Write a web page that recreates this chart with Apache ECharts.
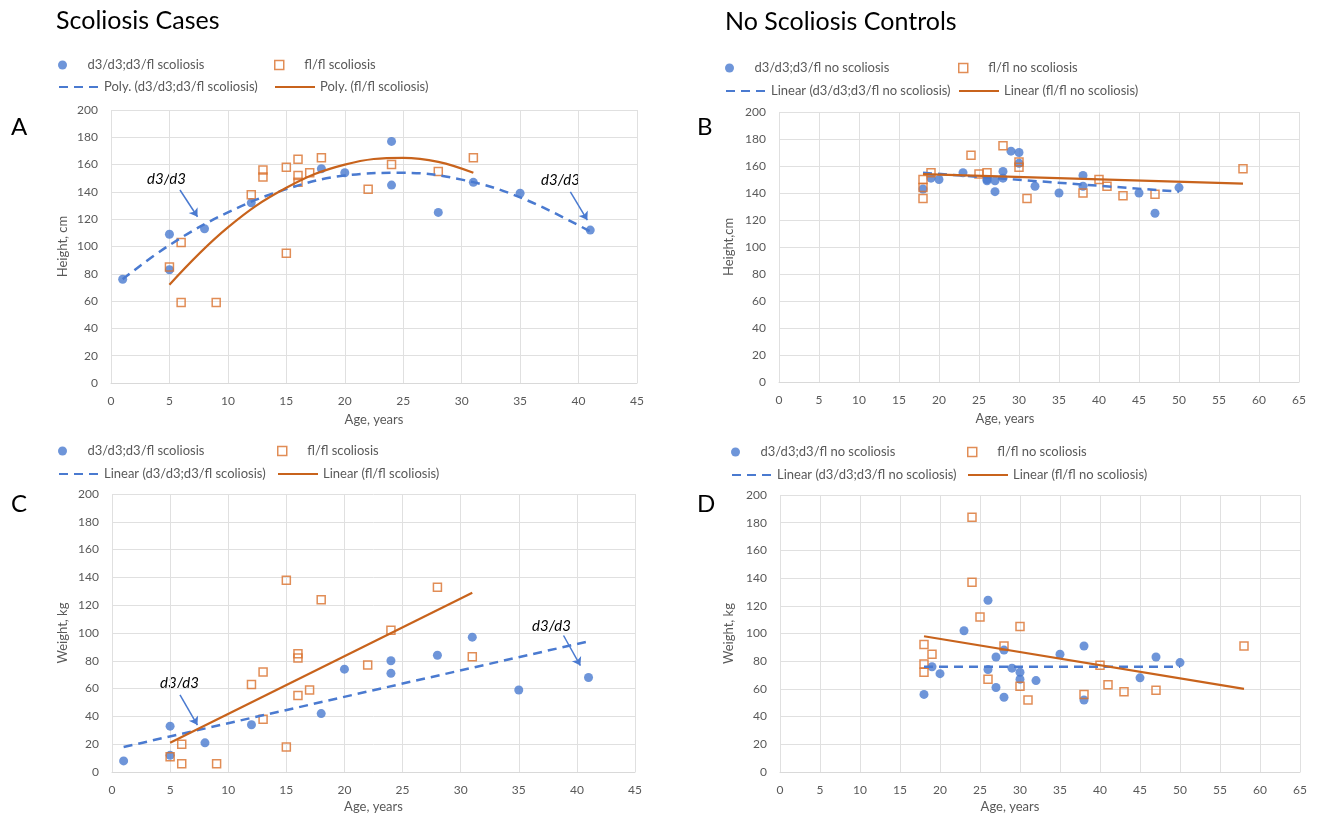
<!DOCTYPE html>
<html>
<head>
<meta charset="utf-8">
<title>Scoliosis cases and controls</title>
<script src="https://cdn.jsdelivr.net/npm/echarts@6/dist/echarts.min.js"></script>
<style>
  html, body { margin: 0; padding: 0; background: #fff; }
  #chart { width: 1324px; height: 819px; }
</style>
</head>
<body>
<div id="chart"></div>
<script>
// A - height, scoliosis cases  [age, cm]
var heightCasesD3 = [[1,76],[5,109],[5,83],[8,113],[12,132],[18,157],[20,154],[24,177],[24,145],[28,125],[31,147],[35,139],[41,112]];
var heightCasesFl = [[5,85],[6,103],[6,59],[9,59],[12,138],[13,156],[13,151],[15,158],[15,95],[16,164],[16,152],[16,147],[17,154],[18,165],[22,142],[24,160],[28,155],[31,165]];
// trend curves
var heightCasesD3Trend = [[1,76],[5,101],[10,125],[15,142],[20,152],[25,154],[30,149],[35,136],[41,111]];
var heightCasesFlTrend = [[5,72],[10,114],[15,143],[20,160],[25,165],[28,162],[31,154]];

// B - height, no scoliosis controls
var heightCtrlD3 = [[18,143],[19,151],[20,150],[23,155],[26,150],[26,149],[27,149],[27,141],[28,156],[28,151],[29,171],[30,170],[30,162],[32,145],[35,140],[38,153],[38,145],[45,140],[47,125],[50,144]];
var heightCtrlFl = [[18,150],[18,144],[18,136],[19,155],[24,168],[25,154],[26,155],[28,175],[30,163],[30,159],[31,136],[38,140],[40,150],[41,145],[43,138],[47,139],[58,158]];
var heightCtrlD3Trend = [[18,155],[50,141]];
var heightCtrlFlTrend = [[18,154],[58,147]];

// C - weight, scoliosis cases  [age, kg]
var weightCasesD3 = [[1,8],[5,33],[5,12],[8,21],[12,34],[18,42],[20,74],[24,80],[24,71],[28,84],[31,97],[35,59],[41,68]];
var weightCasesFl = [[5,11],[6,20],[6,6],[9,6],[12,63],[13,72],[13,38],[15,138],[15,18],[16,85],[16,82],[16,55],[17,59],[18,124],[22,77],[24,102],[28,133],[31,83]];
var weightCasesD3Trend = [[1,18],[41,94]];
var weightCasesFlTrend = [[5,21],[31,129]];

// D - weight, no scoliosis controls
var weightCtrlD3 = [[18,56],[19,76],[20,71],[23,102],[26,124],[26,74],[27,83],[27,61],[28,88],[28,54],[29,75],[30,72],[30,67],[32,66],[35,85],[38,91],[38,52],[45,68],[47,83],[50,79]];
var weightCtrlFl = [[18,92],[18,78],[18,72],[19,85],[24,184],[24,137],[25,112],[26,67],[28,91],[30,105],[30,62],[31,52],[38,56],[40,77],[41,63],[43,58],[47,59],[58,91]];
var weightCtrlD3Trend = [[18,76],[50,76]];
var weightCtrlFlTrend = [[18,98],[58,60]];

// d3/d3 arrows, [from, to] in data units
var arrowsHeight = [[[5.9,141.4],[7.4,121.8]], [[39.3,140.1],[40.75,119.4]]];
var arrowsWeight = [[[5.85,55.5],[7.35,33.8]], [[38.85,98.2],[40.3,76.6]]];

var FONT = 'Lato';
var GREY = '#595959';
var BLUE = '#4A7AD0';
var ORANGE = '#D9712C';
var ORANGE_LINE = '#C8631C';
var GRIDLINE = '#E0E0E0';

var chart = echarts.init(document.getElementById('chart'));

function xAxis(idx, max, gap, shift) {
  return {
    gridIndex: idx, type: 'value', min: 0, max: max, interval: 5,
    name: 'Age, years', nameLocation: 'middle', nameGap: gap,
    nameTextStyle: { color: GREY, fontSize: 13, fontFamily: FONT, padding: [0, shift, 0, 0] },
    axisLine: { lineStyle: { color: '#D9D9D9' } },
    axisTick: { show: false },
    axisLabel: { color: GREY, fontSize: 12, fontFamily: FONT, margin: 12 },
    splitLine: { show: true, lineStyle: { color: GRIDLINE } }
  };
}

function yAxis(idx, name, gap) {
  return {
    gridIndex: idx, type: 'value', min: 0, max: 200, interval: 20,
    name: name, nameLocation: 'middle', nameGap: gap,
    nameTextStyle: { color: GREY, fontSize: 13, fontFamily: FONT },
    axisLine: { show: false },
    axisTick: { show: false },
    axisLabel: { color: GREY, fontSize: 12, fontFamily: FONT, margin: 13 },
    splitLine: { show: true, lineStyle: { color: GRIDLINE } }
  };
}

function dots(name, data, idx, arrows) {
  var s = {
    name: name, type: 'scatter', xAxisIndex: idx, yAxisIndex: idx, data: data,
    symbol: 'circle', symbolSize: 9, itemStyle: { color: BLUE }, z: 3
  };
  if (arrows) {
    s.markLine = {
      silent: true, symbol: ['none', 'arrow'], symbolSize: 8,
      label: { show: false },
      lineStyle: { color: BLUE, width: 1.5, type: 'solid' },
      data: arrows.map(function (a) { return [{ coord: a[0] }, { coord: a[1] }]; })
    };
  }
  return s;
}

function squares(name, data, idx) {
  return {
    name: name, type: 'scatter', xAxisIndex: idx, yAxisIndex: idx, data: data,
    symbol: 'rect', symbolSize: 8,
    itemStyle: { color: 'rgba(255,255,255,0)', borderColor: ORANGE, borderWidth: 1.5 }, z: 3
  };
}

function trend(name, data, idx, dashed, smooth) {
  return {
    name: name, type: 'line', xAxisIndex: idx, yAxisIndex: idx, data: data,
    symbol: 'none', showSymbol: false, smooth: smooth ? 0.4 : false, z: 4,
    itemStyle: { color: dashed ? BLUE : ORANGE_LINE },
    lineStyle: dashed ? { color: BLUE, width: 2.5, type: [9, 6] } : { color: ORANGE_LINE, width: 2.2 }
  };
}

// kind: 'dot', 'square' or 'line'
function legendItem(name, left, y, kind) {
  var item = { name: name };
  if (kind === 'square') {
    item.icon = 'path://M0 0H10V10H0Z';
    item.itemStyle = { color: 'rgba(255,255,255,0)', borderColor: ORANGE, borderWidth: 1.5 };
  } else if (kind === 'line') {
    // keep only the stroke in the legend, no marker
    item.itemStyle = { color: 'rgba(0,0,0,0)', borderWidth: 0, opacity: 0 };
  }
  return {
    data: [item], left: left, top: y - 4.5, itemWidth: 40, itemHeight: 9, padding: 0,
    selectedMode: false, symbolKeepAspect: true,
    textStyle: { color: GREY, fontSize: 13, fontFamily: FONT }
  };
}

function heading(text, left, top, size) {
  return { text: text, left: left, top: top, padding: 0,
    textStyle: { color: '#000', fontSize: size, fontWeight: 'normal', fontFamily: FONT } };
}

var option = {
  backgroundColor: '#fff',
  animation: false,
  title: [
    heading('Scoliosis Cases', 56, 8, 25),
    heading('No Scoliosis Controls', 725, 9, 25),
    heading('A', 11, 115, 24),
    heading('B', 697, 115, 24),
    heading('C', 11, 492, 24),
    heading('D', 697, 492, 24)
  ],
  legend: [
    legendItem('d3/d3;d3/fl scoliosis', 58, 63, 'dot'),
    legendItem('fl/fl scoliosis', 274, 63, 'square'),
    legendItem('Poly. (d3/d3;d3/fl scoliosis)', 58, 85, 'line'),
    legendItem('Poly. (fl/fl scoliosis)', 274, 85, 'line'),

    legendItem('d3/d3;d3/fl no scoliosis', 725, 66, 'dot'),
    legendItem('fl/fl no scoliosis', 958, 66, 'square'),
    legendItem('Linear (d3/d3;d3/fl no scoliosis)', 725, 89, 'line'),
    legendItem('Linear (fl/fl no scoliosis)', 958, 89, 'line'),

    legendItem('d3/d3;d3/fl scoliosis', 58, 449, 'dot'),
    legendItem('fl/fl scoliosis', 277, 449, 'square'),
    legendItem('Linear (d3/d3;d3/fl scoliosis)', 58, 472, 'line'),
    legendItem('Linear (fl/fl scoliosis)', 277, 472, 'line'),

    legendItem('d3/d3;d3/fl no scoliosis', 731, 450, 'dot'),
    legendItem('fl/fl no scoliosis', 967, 450, 'square'),
    legendItem('Linear (d3/d3;d3/fl no scoliosis)', 731, 473, 'line'),
    legendItem('Linear (fl/fl no scoliosis)', 967, 473, 'line')
  ],
  grid: [
    { left: 111, top: 110, width: 526, height: 273 },
    { left: 779, top: 112, width: 520, height: 270 },
    { left: 112, top: 494, width: 523, height: 278 },
    { left: 780, top: 495, width: 520, height: 277 }
  ],
  xAxis: [
    xAxis(0, 45, 30, 0),
    xAxis(1, 65, 30, 68),
    xAxis(2, 45, 28, 0),
    xAxis(3, 65, 28, 60)
  ],
  yAxis: [
    yAxis(0, 'Height, cm', 42),
    yAxis(1, 'Height,cm', 44),
    yAxis(2, 'Weight, kg', 43),
    yAxis(3, 'Weight, kg', 45)
  ],
  graphic: [
    { type: 'text', left: 147, top: 172, style: { text: 'd3/d3', fill: '#000', font: 'italic 15px Lato' } },
    { type: 'text', left: 541, top: 173, style: { text: 'd3/d3', fill: '#000', font: 'italic 15px Lato' } },
    { type: 'text', left: 160, top: 676, style: { text: 'd3/d3', fill: '#000', font: 'italic 15px Lato' } },
    { type: 'text', left: 532, top: 619, style: { text: 'd3/d3', fill: '#000', font: 'italic 15px Lato' } }
  ],
  series: [
    dots('d3/d3;d3/fl scoliosis', heightCasesD3, 0, arrowsHeight),
    squares('fl/fl scoliosis', heightCasesFl, 0),
    trend('Poly. (d3/d3;d3/fl scoliosis)', heightCasesD3Trend, 0, true, true),
    trend('Poly. (fl/fl scoliosis)', heightCasesFlTrend, 0, false, true),

    dots('d3/d3;d3/fl no scoliosis', heightCtrlD3, 1),
    squares('fl/fl no scoliosis', heightCtrlFl, 1),
    trend('Linear (d3/d3;d3/fl no scoliosis)', heightCtrlD3Trend, 1, true),
    trend('Linear (fl/fl no scoliosis)', heightCtrlFlTrend, 1, false),

    dots('d3/d3;d3/fl scoliosis', weightCasesD3, 2, arrowsWeight),
    squares('fl/fl scoliosis', weightCasesFl, 2),
    trend('Linear (d3/d3;d3/fl scoliosis)', weightCasesD3Trend, 2, true),
    trend('Linear (fl/fl scoliosis)', weightCasesFlTrend, 2, false),

    dots('d3/d3;d3/fl no scoliosis', weightCtrlD3, 3),
    squares('fl/fl no scoliosis', weightCtrlFl, 3),
    trend('Linear (d3/d3;d3/fl no scoliosis)', weightCtrlD3Trend, 3, true),
    trend('Linear (fl/fl no scoliosis)', weightCtrlFlTrend, 3, false)
  ]
};

chart.setOption(option);
</script>
</body>
</html>
